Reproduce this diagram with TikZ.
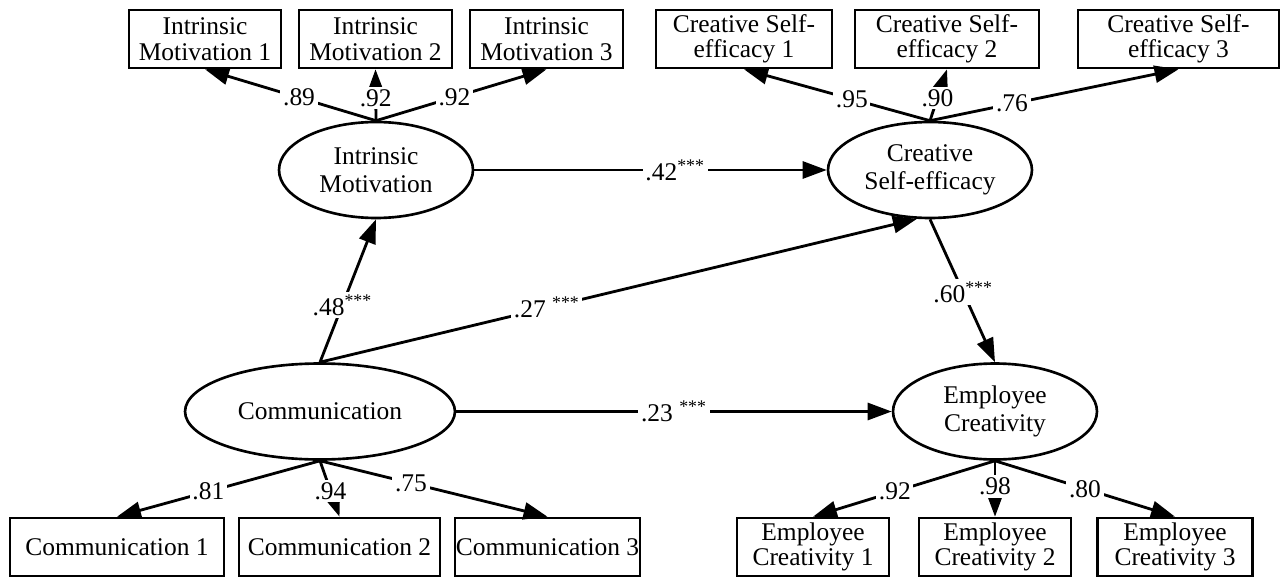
\documentclass[tikz,border=0pt]{standalone}
\usepackage{fontspec}
\setmainfont{Liberation Serif}
\usetikzlibrary{arrows.meta,shapes.geometric}

\begin{document}
\begin{tikzpicture}[x=0.02cm, y=-0.02cm,
    ind/.style={draw, rectangle, line width=1.5pt, align=center, inner sep=0pt, minimum height=1.16cm, font=\fontsize{14.5}{14.5}\selectfont},
    lat/.style={draw, ellipse, line width=1.5pt, align=center, inner sep=0pt, minimum height=1.92cm, font=\fontsize{14.5}{16}\selectfont},
    lbl/.style={fill=white, inner sep=1.5pt, font=\fontsize{14.5}{14.5}\selectfont},
    arr/.style={-{Triangle[length=0.48cm, width=0.34cm]}, line width=1.6pt}]
				\useasboundingbox (0,0) rectangle (1281,578);

				% Latent variables
				\node (im) [lat, minimum width=3.88cm] at (376,170) {Intrinsic\\Motivation};
				\node (cse) [lat, minimum width=4.08cm] at (930,170) {Creative\\Self-efficacy};
				\node (comm) [lat, minimum width=5.4cm] at (320,411.5) {Communication};
				\node (ec) [lat, minimum width=4.08cm] at (995,411.5) {Employee\\Creativity};

				% Indicators
				\node (im1) [ind, minimum width=3.04cm] at (205,39) {Intrinsic\\Motivation 1};
				\node (im2) [ind, minimum width=3.06cm] at (375.5,39) {Intrinsic\\Motivation 2};
				\node (im3) [ind, minimum width=3.06cm] at (546.5,39) {Intrinsic\\Motivation 3};
				\node (cse1) [ind, minimum width=3.52cm] at (744,39) {Creative Self-\\efficacy 1};
				\node (cse2) [ind, minimum width=3.68cm] at (947,39) {Creative Self-\\efficacy 2};
				\node (cse3) [ind, minimum width=4.02cm] at (1178.5,39) {Creative Self-\\efficacy 3};
				\node (comm1) [ind, minimum width=4.28cm] at (117,547) {Communication 1};
				\node (comm2) [ind, minimum width=4.02cm] at (339.5,547) {Communication 2};
				\node (comm3) [ind, minimum width=3.7cm] at (547.5,547) {Communication 3};
				\node (ec1) [ind, minimum width=3.04cm] at (813,547) {Employee\\Creativity 1};
				\node (ec2) [ind, minimum width=3.04cm] at (995,547) {Employee\\Creativity 2};
				\node (ec3) [ind, minimum width=3.1cm] at (1175,547) {Employee\\Creativity 3};

				% Loadings
				\draw[arr] (im.north) -- node[lbl, pos=0.45] {.89} (im1.south);
				\draw[arr] (im.north) -- node[lbl, pos=0.44] {.92} (im2.south);
				\draw[arr] (im.north) -- node[lbl, pos=0.46] {.92} (im3.south);
				\draw[arr] (cse.north) -- node[lbl, pos=0.42] {.95} (cse1.south);
				\draw[arr] (cse.north) -- node[lbl, pos=0.44] {.90} (cse2.south);
				\draw[arr] (cse.north) -- node[lbl, pos=0.33] {.76} (cse3.south);
				\draw[arr] (comm.south) -- node[lbl, pos=0.55] {.81} (comm1.north);
				\draw[arr] (comm.south) -- node[lbl, pos=0.54] {.94} (comm2.north);
				\draw[arr] (comm.south) -- node[lbl, pos=0.4] {.75} (comm3.north);
				\draw[arr] (ec.south) -- node[lbl, pos=0.55] {.92} (ec1.north);
				\draw[arr] (ec.south) -- node[lbl, pos=0.46] {.98} (ec2.north);
				\draw[arr] (ec.south) -- node[lbl, pos=0.5] {.80} (ec3.north);

				% Paths
				\draw[arr] (im.east) -- node[lbl, pos=0.57] {.42\textsuperscript{***}} (cse.west);
				\draw[arr] (comm.north) -- node[lbl, pos=0.4] {.48\textsuperscript{***}} (im.south);
				\draw[arr] (comm.north) -- node[lbl, pos=0.38] {.27 \textsuperscript{***}} (cse.255);
				\draw[arr] (cse.south) -- node[lbl, pos=0.51] {.60\textsuperscript{***}} (ec.north);
				\draw[arr] (comm.east) -- node[lbl, pos=0.5] {.23 \textsuperscript{***}} (ec.west);
			\end{tikzpicture}
\end{document}
